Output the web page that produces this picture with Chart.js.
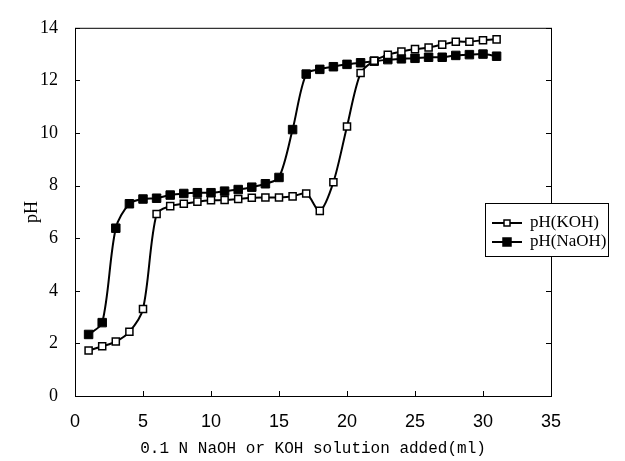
<!DOCTYPE html>
<html lang="en">
<head>
<meta charset="utf-8">
<title>pH titulacion</title>
<script src="https://cdn.jsdelivr.net/npm/chart.js@4.4.1/dist/chart.umd.min.js"></script>
<style>
  html, body { margin: 0; padding: 0; background: #fff; }
  #contenedor { width: 625px; height: 461px; }
</style>
</head>
<body>
<div id="contenedor"><canvas id="graficoPH" width="625" height="461"></canvas></div>
<script>
// Datos
const volumenes = [1, 2, 3, 4, 5, 6, 7, 8, 9, 10, 11, 12, 13, 14, 15, 16,
                   17, 18, 19, 20, 21, 22, 23, 24, 25, 26, 27, 28, 29, 30, 31];
const phKOH = [1.73, 1.89, 2.07, 2.44, 3.31, 6.92, 7.22, 7.31, 7.39, 7.44, 7.45,
               7.49, 7.54, 7.55, 7.55, 7.59, 7.70, 7.04, 8.13, 10.25, 12.28, 12.75,
               12.97, 13.10, 13.19, 13.25, 13.36, 13.47, 13.47, 13.53, 13.56];
const phNaOH = [2.34, 2.79, 6.38, 7.31, 7.49, 7.52, 7.64, 7.70, 7.73, 7.73, 7.79,
                7.85, 7.94, 8.07, 8.31, 10.13, 12.24, 12.42, 12.52, 12.61, 12.67, 12.73,
                12.79, 12.82, 12.84, 12.88, 12.88, 12.95, 12.98, 13.00, 12.92];
const etiquetas = ['pH(KOH)', 'pH(NaOH)'];
const tituloX = '0.1 N NaOH or KOH solution added(ml)';
const tituloY = 'pH';

// Marco del area y marcas de escala hacia adentro
const marcoPlugin = {
    id: 'marco',
    beforeDatasetsDraw(chart) {
        const { ctx, chartArea: a, scales: { x, y } } = chart;
        ctx.save();
        ctx.strokeStyle = '#000';
        ctx.lineWidth = 1;
        ctx.strokeRect(a.left + 0.5, a.top + 0.5, a.right - a.left, a.bottom - a.top);
        ctx.beginPath();
        y.ticks.forEach(t => {
            const py = Math.round(y.getPixelForValue(t.value)) + 0.5;
            ctx.moveTo(a.left, py); ctx.lineTo(a.left + 5, py);
            ctx.moveTo(a.right, py); ctx.lineTo(a.right - 5, py);
        });
        x.ticks.forEach(t => {
            const px = Math.round(x.getPixelForValue(t.value)) + 0.5;
            ctx.moveTo(px, a.bottom); ctx.lineTo(px, a.bottom - 5);
        });
        ctx.stroke();
        ctx.restore();
    }
};

// Leyenda con caja, a la derecha del grafico
const leyendaPlugin = {
    id: 'leyendaCaja',
    afterDraw(chart) {
        const ctx = chart.ctx;
        const caja = { x: 485, y: 203, w: 123, h: 53 };
        ctx.save();
        ctx.fillStyle = '#fff';
        ctx.fillRect(caja.x, caja.y, caja.w, caja.h);
        ctx.strokeStyle = '#000';
        ctx.lineWidth = 1;
        ctx.strokeRect(caja.x + 0.5, caja.y + 0.5, caja.w, caja.h);
        chart.data.datasets.forEach((ds, i) => {
            const yy = 223 + i * 19;
            ctx.beginPath();
            ctx.moveTo(492, yy);
            ctx.lineTo(522, yy);
            ctx.lineWidth = ds.borderWidth;
            ctx.strokeStyle = ds.borderColor;
            ctx.stroke();
            const lado = i === 0 ? 6 : 8;
            ctx.fillStyle = ds.pointBackgroundColor;
            ctx.fillRect(507 - lado / 2, yy - lado / 2, lado, lado);
            ctx.lineWidth = 1.5;
            ctx.strokeRect(507 - lado / 2, yy - lado / 2, lado, lado);
            ctx.fillStyle = '#000';
            ctx.font = '17px "Liberation Serif"';
            ctx.textBaseline = 'middle';
            ctx.fillText(ds.label, 530, yy);
        });
        ctx.restore();
    }
};

window.crearGraficoPH = function() {
    try {
        const canvas = document.getElementById('graficoPH');
        if (!canvas || typeof Chart === 'undefined') {
            console.debug('Canvas o Chart.js no disponible');
            return false;
        }
        const datos = {
            datasets: [{
                label: etiquetas[0],
                data: volumenes.map((v, i) => ({ x: v, y: phKOH[i] })),
                borderColor: '#000',
                borderWidth: 2,
                pointStyle: 'rect',
                pointRadius: 5,
                pointBorderWidth: 1.5,
                pointBackgroundColor: '#fff',
                pointBorderColor: '#000',
                tension: 0.3
            }, {
                label: etiquetas[1],
                data: volumenes.map((v, i) => ({ x: v, y: phNaOH[i] })),
                borderColor: '#000',
                borderWidth: 2,
                pointStyle: 'rect',
                pointRadius: 6,
                pointBorderWidth: 1,
                pointBackgroundColor: '#000',
                pointBorderColor: '#000',
                tension: 0.3
            }]
        };
        const config = {
            type: 'line',
            data: datos,
            options: {
                responsive: false,
                animation: false,
                layout: { padding: { top: 11, right: 74, left: 0, bottom: 0 } },
                plugins: {
                    legend: { display: false },
                    tooltip: { enabled: false }
                },
                scales: {
                    x: {
                        type: 'linear',
                        min: 0,
                        max: 35,
                        ticks: { stepSize: 5, padding: 3, color: '#000',
                                 font: { family: '"Liberation Sans"', size: 18, lineHeight: 2.6 } },
                        grid: { display: false, drawTicks: false },
                        border: { display: false },
                        title: { display: true, text: tituloX, color: '#000',
                                 font: { family: '"Liberation Mono"', size: 16 },
                                 padding: { top: 0, bottom: 3 } },
                        afterFit(s) { s.height = 65; }
                    },
                    y: {
                        min: 0,
                        max: 14,
                        ticks: { stepSize: 2, padding: 17, color: '#000',
                                 font: { family: '"Liberation Serif"', size: 18 } },
                        grid: { display: false, drawTicks: false },
                        border: { display: false },
                        title: { display: true, text: tituloY, color: '#000',
                                 font: { family: '"Liberation Serif"', size: 18 },
                                 padding: { top: 21, bottom: 0 } },
                        afterFit(s) { s.width = 75; }
                    }
                }
            },
            plugins: [marcoPlugin, leyendaPlugin]
        };
        window.graficoPH_chart = new Chart(canvas, config);
        return true;
    } catch (error) {
        console.error('Error creando grafico:', error);
        return false;
    }
};

window.crearGraficoPH();
</script>
</body>
</html>
